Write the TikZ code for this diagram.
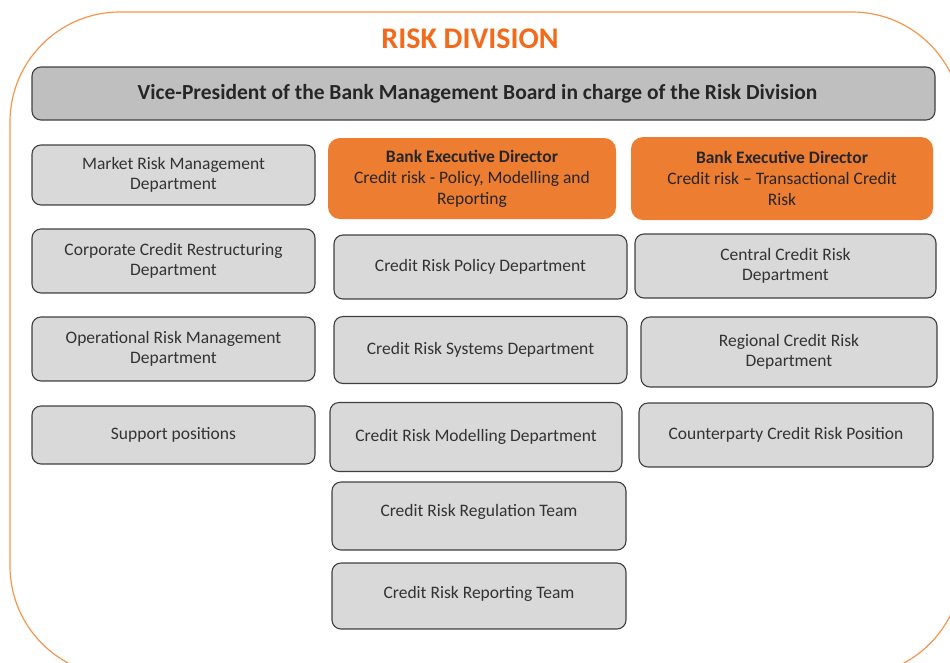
\documentclass[tikz,border=0pt]{standalone}
\usepackage{fontspec}
\setmainfont{Carlito}
\definecolor{ingorange}{HTML}{ED7D31}
\definecolor{titleorange}{HTML}{F26B1D}
\definecolor{framecol}{HTML}{F7954F}
\definecolor{boxgray}{HTML}{D9D9D9}
\definecolor{vpgray}{HTML}{BFBFBF}
\definecolor{edgegray}{HTML}{404040}
\definecolor{txt}{HTML}{333333}
\begin{document}
\begin{tikzpicture}[x=1pt,y=-1pt,
  gbox/.style={draw=edgegray,line width=1.1pt,fill=boxgray,rounded corners=9pt,
    align=center,text=txt,font=\fontsize{17.5}{20}\selectfont,inner sep=0pt},
  obox/.style={fill=ingorange,rounded corners=12pt,align=center,text=black!85,
    font=\fontsize{17.5}{21}\selectfont,inner sep=0pt},
  vpbox/.style={draw=edgegray,line width=1.1pt,fill=vpgray,rounded corners=9pt,
    align=center,text=black!85,font=\bfseries\fontsize{21.5}{24}\selectfont,inner sep=0pt}]
\useasboundingbox (0,0) rectangle (950,662);
\clip (0,0) rectangle (950,662);
\draw[framecol,line width=1.2pt,rounded corners=110pt] (10,12) rectangle (962,676);
\node[font=\bfseries\fontsize{30}{32}\selectfont,text=titleorange] (title) at (470,39) {RISK DIVISION};
\node[vpbox,minimum width=903pt,minimum height=53pt] (vp) at (483.5,93.5)
  {\hspace*{-12pt}Vice-President of the Bank Management Board in charge of the Risk Division};
% left column
\node[gbox,minimum width=283pt,minimum height=60pt] (mrm) at (173.5,175) {Market Risk Management\\Department};
\node[gbox,minimum width=283pt,minimum height=64pt] (ccr) at (173.5,261) {Corporate Credit Restructuring\\Department};
\node[gbox,minimum width=283pt,minimum height=64pt] (orm) at (173.5,349) {Operational Risk Management\\Department};
\node[gbox,minimum width=283pt,minimum height=58pt] (sup) at (173.5,435) {Support positions};
% middle column
\node[obox,minimum width=288pt,minimum height=81pt] (bed1) at (472,178.5)
  {\textbf{Bank Executive Director}\\Credit risk - Policy, Modelling and\\Reporting};
\node[gbox,minimum width=293pt,minimum height=64pt] (pol) at (480.5,267) {Credit Risk Policy Department};
\node[gbox,minimum width=293pt,minimum height=67pt] (sys) at (480.5,350) {Credit Risk Systems Department};
\node[gbox,minimum width=292pt,minimum height=69pt] (mod) at (476,437) {\raisebox{4pt}{Credit Risk Modelling Department}};
\node[gbox,minimum width=294pt,minimum height=68pt] (reg) at (479,516) {\raisebox{11pt}{Credit Risk Regulation Team}};
\node[gbox,minimum width=294pt,minimum height=66pt] (rep) at (479,596) {\raisebox{8pt}{Credit Risk Reporting Team}};
% right column
\node[obox,minimum width=302pt,minimum height=83pt] (bed2) at (782,178.5)
  {\textbf{Bank Executive Director}\\Credit risk -- Transactional Credit\\Risk};
\node[gbox,minimum width=301pt,minimum height=64pt] (cen) at (785.5,266) {Central Credit Risk\\Department};
\node[gbox,minimum width=296pt,minimum height=70pt] (rgn) at (789,352) {Regional Credit Risk\\Department};
\node[gbox,minimum width=294pt,minimum height=64pt] (cpt) at (786,435) {Counterparty Credit Risk Position};
\end{tikzpicture}
\end{document}
